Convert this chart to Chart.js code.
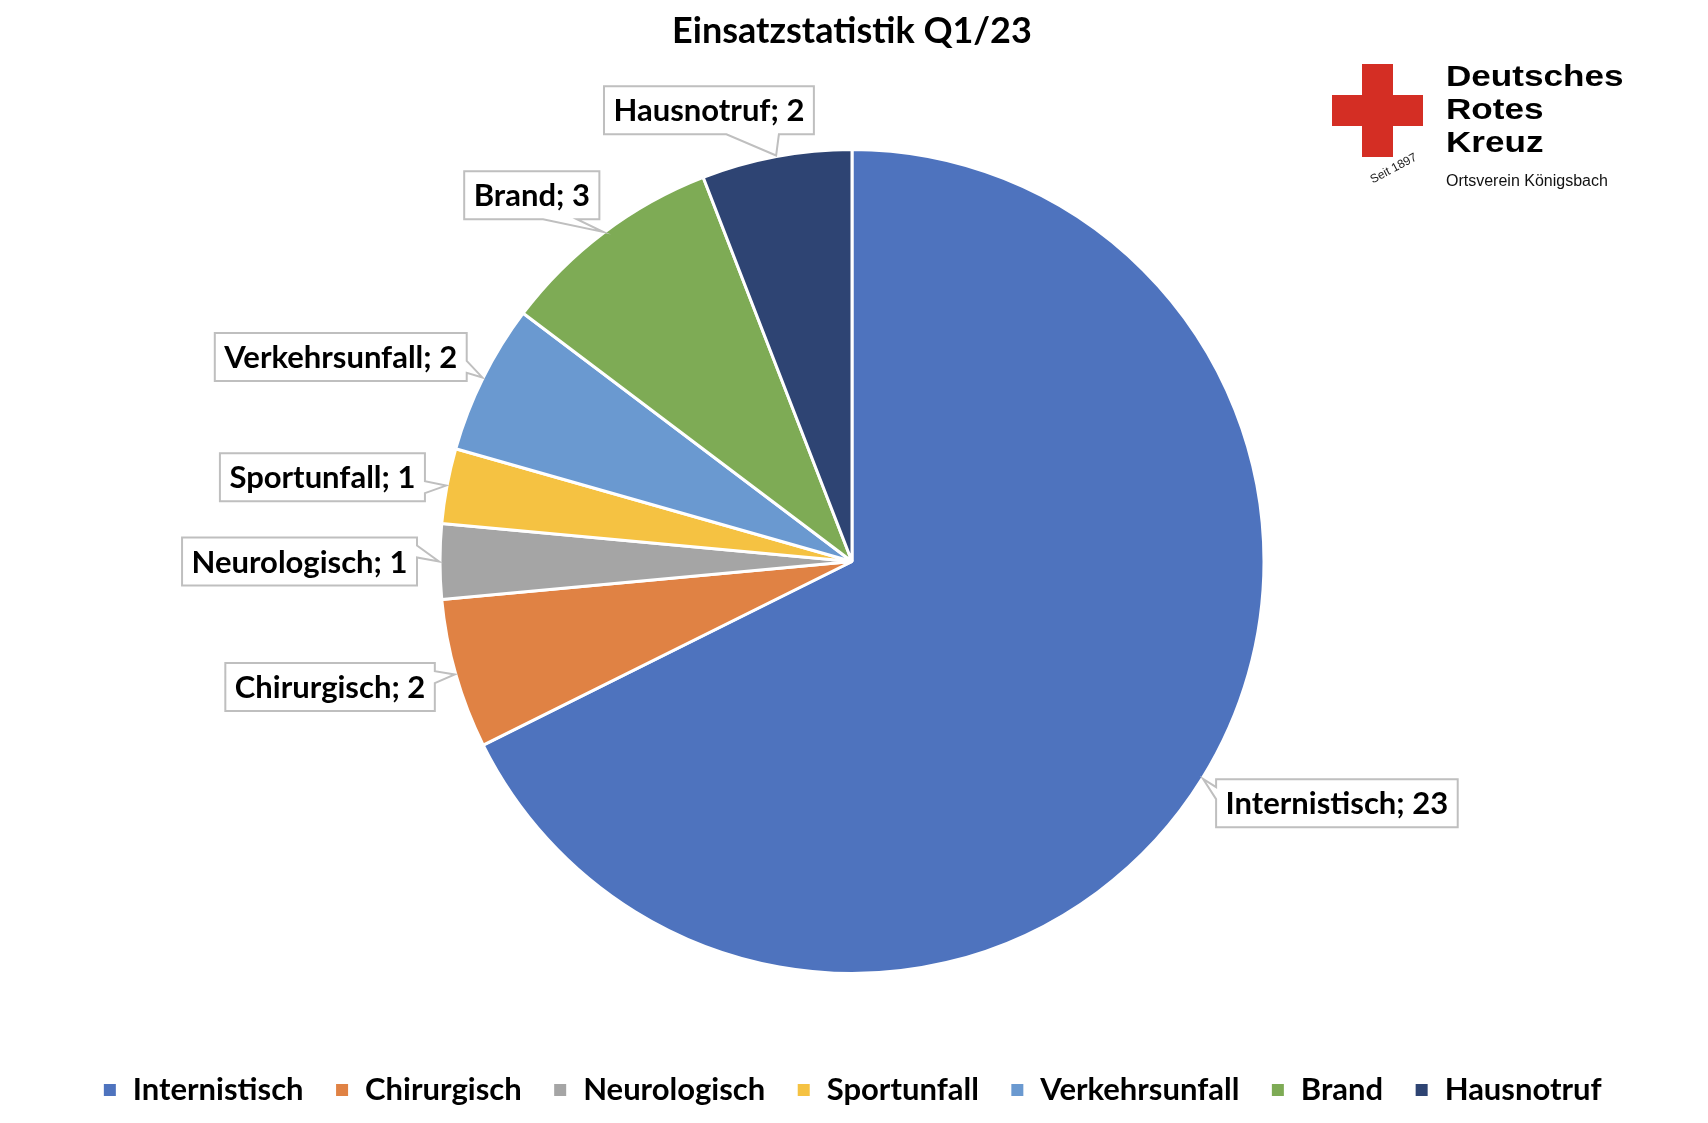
<!DOCTYPE html>
<html>
<head>
<meta charset="utf-8">
<script src="https://cdn.jsdelivr.net/npm/chart.js@4.4.0/dist/chart.umd.min.js"></script>
<style>
  html, body { margin: 0; padding: 0; background: #ffffff; }
  #wrap { position: relative; width: 1708px; height: 1123px; overflow: hidden; }
  #c { position: absolute; left: 0; top: 0; }
  .bar { position: absolute; background: #D42E24; }
  .drk { position: absolute; left: 1446px; font-family: "Liberation Sans", Arial, sans-serif; font-weight: bold;
         font-size: 30px; line-height: 30px; color: #000; transform: scaleX(1.17); transform-origin: left top; white-space: nowrap; }
  .ov { position: absolute; left: 1446px; top: 173px; font-family: "Liberation Sans", Arial, sans-serif; font-size: 16px;
        line-height: 16px; color: #111; white-space: nowrap; }
  .seit { position: absolute; left: 1368px; top: 162px; font-family: "Liberation Sans", Arial, sans-serif; font-size: 12px;
          line-height: 12px; color: #222; transform: rotate(-28deg); transform-origin: center; white-space: nowrap; }
</style>
</head>
<body>
<div id="wrap">
  <canvas id="c" width="1708" height="1123" style="width:1708px;height:1123px"></canvas>
  <div class="bar" style="left:1362px;top:64px;width:31px;height:93px"></div>
  <div class="bar" style="left:1332px;top:95px;width:91px;height:31px"></div>
  <div class="drk" style="top:61px">Deutsches</div>
  <div class="drk" style="top:94px">Rotes</div>
  <div class="drk" style="top:127px">Kreuz</div>
  <div class="ov">Ortsverein Königsbach</div>
  <div class="seit">Seit 1897</div>
</div>
<script>
const categories = ['Internistisch', 'Chirurgisch', 'Neurologisch', 'Sportunfall', 'Verkehrsunfall', 'Brand', 'Hausnotruf'];
const counts = [23, 2, 1, 1, 2, 3, 2];
const sliceColors = ['#4E73BE', '#E08244', '#A5A5A5', '#F5C242', '#6A99D0', '#7EAB55', '#2E4473'];
const chartTitle = 'Einsatzstatistik Q1/23';

const FONT = 'Lato, "Open Sans", sans-serif';

function drawCallout(ctx, l, t, w, h, xt, yt) {
  const r = l + w, b = t + h, hc = l + w / 2, vc = t + h / 2;
  const dxPos = xt - hc, dyPos = yt - vc;
  const dq = dxPos * h / w;
  const dz = Math.abs(dyPos) - Math.abs(dq);
  const x1 = l + w * (dxPos > 0 ? 7 : 2) / 12, x2 = l + w * (dxPos > 0 ? 10 : 5) / 12;
  const y1 = t + h * (dyPos > 0 ? 7 : 2) / 12, y2 = t + h * (dyPos > 0 ? 10 : 5) / 12;
  ctx.beginPath();
  ctx.moveTo(l, t);
  if (dz > 0 && dyPos < 0) { ctx.lineTo(x1, t); ctx.lineTo(xt, yt); ctx.lineTo(x2, t); }
  ctx.lineTo(r, t);
  if (dz <= 0 && dxPos > 0) { ctx.lineTo(r, y1); ctx.lineTo(xt, yt); ctx.lineTo(r, y2); }
  ctx.lineTo(r, b);
  if (dz > 0 && dyPos > 0) { ctx.lineTo(x2, b); ctx.lineTo(xt, yt); ctx.lineTo(x1, b); }
  ctx.lineTo(l, b);
  if (dz <= 0 && dxPos < 0) { ctx.lineTo(l, y2); ctx.lineTo(xt, yt); ctx.lineTo(l, y1); }
  ctx.closePath();
  ctx.fillStyle = '#ffffff';
  ctx.fill();
  ctx.lineWidth = 2;
  ctx.strokeStyle = '#BFBFBF';
  ctx.lineJoin = 'miter';
  ctx.stroke();
}

const calloutPlugin = {
  id: 'callouts',
  afterDatasetsDraw(chart) {
    const ctx = chart.ctx;
    const meta = chart.getDatasetMeta(0);
    const labels = chart.data.labels;
    const values = chart.data.datasets[0].data;
    ctx.save();
    ctx.font = 'bold 31px ' + FONT;
    ctx.textAlign = 'center';
    ctx.textBaseline = 'middle';
    meta.data.forEach((arc, i) => {
      const p = arc.getProps(['x', 'y', 'startAngle', 'endAngle', 'outerRadius'], true);
      const mid = (p.startAngle + p.endAngle) / 2;
      const dx = Math.cos(mid), dy = Math.sin(mid);
      const tipX = p.x + dx * (p.outerRadius + 1);
      const tipY = p.y + dy * (p.outerRadius + 1);
      const gap = 23;
      const ax = p.x + dx * (p.outerRadius + gap);
      const ay = p.y + dy * (p.outerRadius + gap);
      const text = labels[i] + '; ' + values[i];
      const tw = ctx.measureText(text).width;
      const w = tw + 19, h = 48;
      const cx = ax + Math.sign(dx) * Math.pow(Math.abs(dx), 0.3) * w / 2;
      const cy = ay + dy * h / 2;
      drawCallout(ctx, cx - w / 2, cy - h / 2, w, h, tipX, tipY);
      ctx.fillStyle = '#000000';
      ctx.fillText(text, cx, cy + 1);
    });
    ctx.restore();
  }
};

new Chart(document.getElementById('c'), {
  type: 'pie',
  data: {
    labels: categories,
    datasets: [{
      data: counts,
      backgroundColor: sliceColors,
      borderColor: '#ffffff',
      borderWidth: 3
    }]
  },
  plugins: [calloutPlugin],
  options: {
    responsive: false,
    animation: false,
    devicePixelRatio: 1,
    layout: { padding: { left: 0, right: 4, top: 0, bottom: 7.5 } },
    plugins: {
      title: {
        display: true,
        text: chartTitle,
        color: '#000000',
        font: { family: FONT, size: 36, weight: 'bold', lineHeight: 1.2 },
        padding: { top: 10.2, bottom: 94.6 }
      },
      subtitle: {
        display: true,
        position: 'bottom',
        text: '',
        weight: 500,
        font: { size: 10, lineHeight: 1 },
        padding: { top: 0, bottom: 58.5 }
      },
      legend: {
        display: true,
        position: 'bottom',
        labels: {
          color: '#000000',
          font: { family: FONT, size: 31, weight: 'bold' },
          boxWidth: 15,
          boxHeight: 15,
          padding: 31
        }
      },
      tooltip: { enabled: false }
    }
  }
});
</script>
</body>
</html>
